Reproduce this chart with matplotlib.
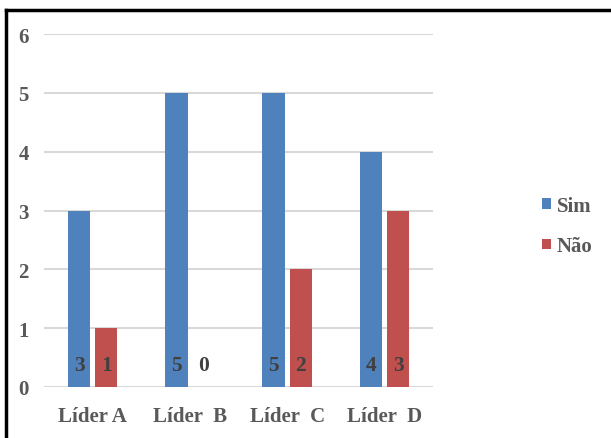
import matplotlib.pyplot as plt
from matplotlib.lines import Line2D
import numpy as np

lideres = ['Líder A', 'Líder  B', 'Líder  C', 'Líder  D']
sim = [3, 5, 5, 4]
nao = [1, 0, 2, 3]

azul = '#4F81BD'
vermelho = '#C0504D'
cinza = '#595959'

plt.rcParams['font.family'] = ['Liberation Serif', 'DejaVu Serif']
plt.rcParams['font.weight'] = 'bold'

fig = plt.figure(figsize=(6.11, 4.39), dpi=100)
ax = fig.add_axes([0.072, 0.1162, 0.637, 0.804])

x = np.arange(len(lideres))
w = 0.23
b1 = ax.bar(x - 0.14, sim, w, color=azul, label='Sim', zorder=2)
b2 = ax.bar(x + 0.14, nao, w, color=vermelho, label='Não', zorder=2)

# valores dentro das barras, perto da base
for xs, vals in [(x - 0.14, sim), (x + 0.14, nao)]:
    for xi, v in zip(xs, vals):
        ax.text(xi, 0.37, str(v), ha='center', va='center', fontsize=15.5,
                fontweight='bold', color='#404040', zorder=3)

ax.set_xlim(-0.5, 3.5)
ax.set_ylim(0, 6)
ax.set_yticks(range(0, 7))
ax.set_xticks(x)
ax.set_xticklabels(lideres)
ax.grid(axis='y', color='#D9D9D9', linewidth=1.5, zorder=0)
ax.set_axisbelow(True)
for s in ax.spines.values():
    s.set_visible(False)
ax.tick_params(axis='both', length=0, labelsize=15, labelcolor=cinza)
ax.tick_params(axis='y', pad=11)
ax.tick_params(axis='x', pad=14)
for lbl in ax.get_xticklabels() + ax.get_yticklabels():
    lbl.set_fontweight('bold')

fig.legend(handles=[b1, b2], loc='center left', bbox_to_anchor=(0.887, 0.483),
           frameon=False, fontsize=15, labelcolor=cinza, handlelength=0.42,
           handleheight=0.42, handletextpad=0.3, labelspacing=1.0,
           borderaxespad=0, borderpad=0)

# moldura (só topo e esquerda visíveis no recorte)
fig.add_artist(Line2D([5.5 / 611, 1], [1 - 11 / 439, 1 - 11 / 439],
                      transform=fig.transFigure, color='black', linewidth=2.5))
fig.add_artist(Line2D([5.5 / 611, 5.5 / 611], [0, 1 - 11 / 439],
                      transform=fig.transFigure, color='black', linewidth=2.5))

fig.savefig('out.png', dpi=100)
